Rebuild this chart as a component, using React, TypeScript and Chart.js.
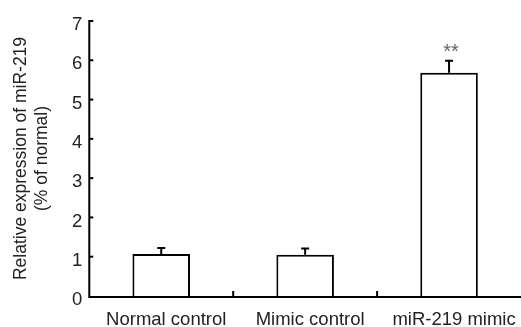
import React, { useEffect, useRef } from "react";
import { Chart, registerables } from "chart.js";

Chart.register(...registerables);

const categories = ["Normal control", "Mimic control", "miR-219 mimic"];
const values = [1.07, 1.05, 5.68];
const errors = [0.15, 0.16, 0.31];
const markers = ["", "", "**"];
const yTicks = [0, 1, 2, 3, 4, 5, 6, 7];

const FONT = "'Liberation Sans', Arial, Helvetica, sans-serif";

const axesPlugin = {
  id: "axesAndErrors",
  afterDatasetsDraw(chart: any) {
    const ctx = chart.ctx;
    const xs = chart.scales.x;
    const ys = chart.scales.y;
    const left = chart.chartArea.left;
    const right = chart.chartArea.right;
    const y0 = ys.getPixelForValue(0);
    const yTop = ys.getPixelForValue(yTicks[yTicks.length - 1]);
    ctx.save();
    ctx.strokeStyle = "#000";
    ctx.lineWidth = 2;
    ctx.lineCap = "butt";
    // error bars
    values.forEach((v, i) => {
      const cx = xs.getPixelForValue(i);
      const yb = ys.getPixelForValue(v);
      const ye = ys.getPixelForValue(v + errors[i]);
      ctx.beginPath();
      ctx.moveTo(cx, yb);
      ctx.lineTo(cx, ye);
      ctx.moveTo(cx - 4, ye);
      ctx.lineTo(cx + 4, ye);
      ctx.stroke();
      if (markers[i]) {
        ctx.fillStyle = "#666";
        ctx.font = "20px " + FONT;
        ctx.textAlign = "center";
        ctx.textBaseline = "alphabetic";
        ctx.fillText(markers[i], cx + 2, ye - 3);
      }
    });
    // axes
    ctx.beginPath();
    ctx.moveTo(left, yTop - 1);
    ctx.lineTo(left, y0 + 1);
    ctx.lineTo(right, y0 + 1);
    ctx.stroke();
    // y ticks (inward)
    yTicks.forEach((t) => {
      if (t === 0) return;
      const py = ys.getPixelForValue(t);
      ctx.beginPath();
      ctx.moveTo(left, py);
      ctx.lineTo(left + 4, py);
      ctx.stroke();
    });
    // x ticks between categories (inward)
    for (let i = 0; i < categories.length - 1; i++) {
      const px = (xs.getPixelForValue(i) + xs.getPixelForValue(i + 1)) / 2;
      ctx.beginPath();
      ctx.moveTo(px, y0);
      ctx.lineTo(px, y0 - 5);
      ctx.stroke();
    }
    ctx.restore();
  },
};

export default function App() {
  const ref = useRef<HTMLCanvasElement>(null);
  useEffect(() => {
    if (!ref.current) return;
    const chart = new Chart(ref.current, {
      type: "bar",
      data: {
        labels: categories,
        datasets: [
          {
            data: values,
            backgroundColor: "#fff",
            borderColor: "#000",
            borderWidth: 2,
            borderSkipped: "bottom",
            barPercentage: 0.4,
            categoryPercentage: 1,
          },
        ],
      },
      options: {
        responsive: false,
        animation: false,
        devicePixelRatio: 1,
        layout: { padding: { left: 11, right: 0, top: 21, bottom: 0 } },
        plugins: { legend: { display: false }, tooltip: { enabled: false } },
        scales: {
          x: {
            grid: { display: false, drawTicks: false },
            border: { display: false },
            afterFit: (scale: any) => {
              scale.height = 31;
              scale.paddingRight = 0;
              scale.paddingLeft = 0;
            },
            ticks: {
              font: { family: FONT, size: 18.5 },
              color: "#222",
              padding: 13,
              maxRotation: 0,
              labelOffset: 5,
            },
          },
          y: {
            min: 0,
            max: 7,
            grid: { display: false, drawTicks: false },
            border: { display: false },
            ticks: {
              stepSize: 1,
              font: { family: FONT, size: 18.5 },
              color: "#222",
              padding: 7,
              labelOffset: 4,
            },
            title: {
              display: true,
              text: ["Relative expression of miR-219", "(% of normal)"],
              font: { family: FONT, size: 17.5 },
              color: "#222",
              padding: { top: 0, bottom: 12 },
            },
          },
        },
      },
      plugins: [axesPlugin],
    });
    return () => chart.destroy();
  }, []);
  return (
    <div style={{ position: "absolute", left: 0, top: 0, width: 521, height: 327 }}>
      <canvas ref={ref} width={521} height={327} />
    </div>
  );
}
